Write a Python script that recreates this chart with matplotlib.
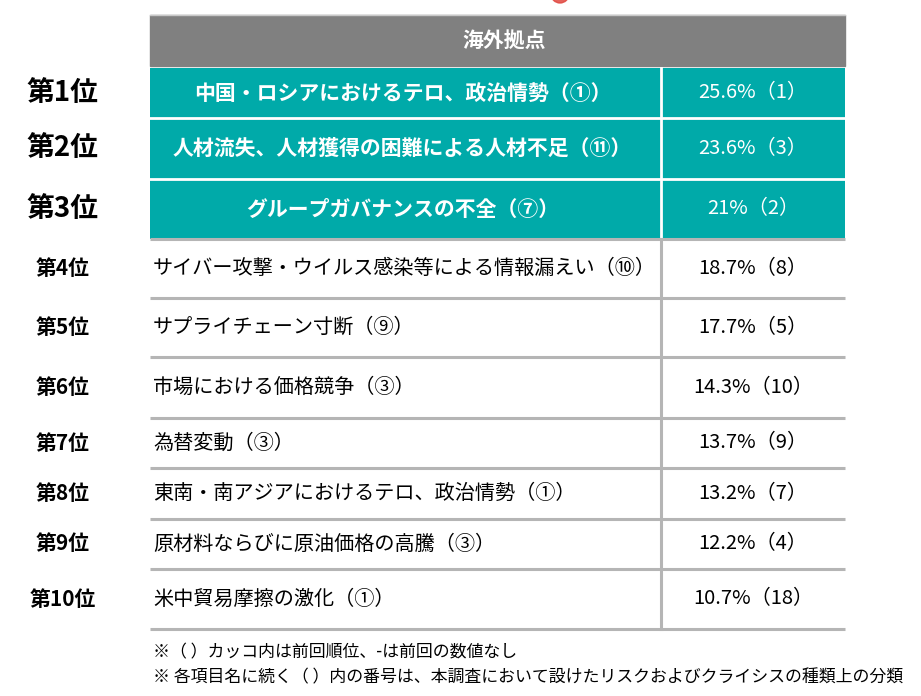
import matplotlib
matplotlib.use("Agg")
import matplotlib.pyplot as plt
from matplotlib.patches import Rectangle, Circle

plt.rcParams['font.family'] = ['Noto Sans CJK JP', 'DejaVu Sans']

# data
header = "海外拠点"
ranks = ["第1位", "第2位", "第3位", "第4位", "第5位", "第6位", "第7位", "第8位", "第9位", "第10位"]
items = [
    "中国・ロシアにおけるテロ、政治情勢（①）",
    "人材流失、人材獲得の困難による人材不足（⑪）",
    "グループガバナンスの不全（⑦）",
    "サイバー攻撃・ウイルス感染等による情報漏えい（⑩）",
    "サプライチェーン寸断（⑨）",
    "市場における価格競争（③）",
    "為替変動（③）",
    "東南・南アジアにおけるテロ、政治情勢（①）",
    "原材料ならびに原油価格の高騰（③）",
    "米中貿易摩擦の激化（①）",
]
shares = ["25.6%", "23.6%", "21%", "18.7%", "17.7%", "14.3%", "13.7%", "13.2%", "12.2%", "10.7%"]
prev_rank = ["1", "3", "2", "8", "5", "10", "9", "7", "4", "18"]
notes = [
    "※（ ）カッコ内は前回順位、-は前回の数値なし",
    "※ 各項目名に続く（ ）内の番号は、本調査において設けたリスクおよびクライシスの種類上の分類",
]

# layout (pixels)
W, H = 921, 696
left, mid, right = 150, 661, 845
head_top, head_bot = 15, 66
row_edges = [68, 118, 179, 239, 298, 357, 418, 468, 519, 569, 629]
teal = "#00aaa9"
grey_line = "#b5b5b5"

fig = plt.figure(figsize=(W / 100, H / 100), dpi=100)
ax = fig.add_axes([0, 0, 1, 1])
ax.set_xlim(0, W)
ax.set_ylim(H, 0)
ax.axis("off")

# red mark cut at the top
ax.add_patch(Circle((560, -6), 9, color="#e0473f", alpha=0.85))

# header
ax.add_patch(Rectangle((left, head_top), right - left, head_bot - head_top, color="#808080"))
ax.plot([left, right], [head_top, head_top], color="#c8c8c8", lw=1)
ax.text((left + right) / 2 + 7, (head_top + head_bot) / 2, header, color="white",
        fontsize=15, fontweight="bold", ha="center", va="center")

for i in range(len(ranks)):
    top, bot = row_edges[i], row_edges[i + 1]
    cy = (top + bot) / 2
    value = f"{shares[i]}（{prev_rank[i]}）"
    if i < 3:
        ax.add_patch(Rectangle((left, top), right - left, bot - top, color=teal, lw=0))
        ax.text(62, cy, ranks[i], fontsize=20, fontweight="bold", ha="center", va="center")
        ax.text((left + mid) / 2 - 3, cy, items[i], fontsize=15, fontweight="bold",
                color="white", ha="center", va="center")
        ax.text((mid + right) / 2, cy, value, fontsize=14.5, color="white",
                ha="center", va="center")
    else:
        ax.text(63, cy, ranks[i], fontsize=15, fontweight="bold", ha="center", va="center")
        ax.text(153, cy, items[i], fontsize=14.5, ha="left", va="center")
        ax.text((mid + right) / 2, cy, value, fontsize=14.5, ha="center", va="center")

# white separators inside teal block
for y in row_edges[1:3]:
    ax.plot([left, right], [y, y], color="white", lw=2)
ax.plot([mid, mid], [row_edges[0], row_edges[3]], color="white", lw=2)

# grey separators for lower rows
for y in row_edges[3:]:
    ax.plot([left, right], [y, y], color=grey_line, lw=2.2, solid_capstyle="butt")
ax.plot([mid, mid], [row_edges[3], row_edges[-1]], color=grey_line, lw=2.2)

# footnotes
ax.text(153, 652, notes[0], fontsize=12.2, ha="left", va="center")
ax.text(153, 677, notes[1], fontsize=12.2, ha="left", va="center")

fig.savefig("out.png", dpi=100)
